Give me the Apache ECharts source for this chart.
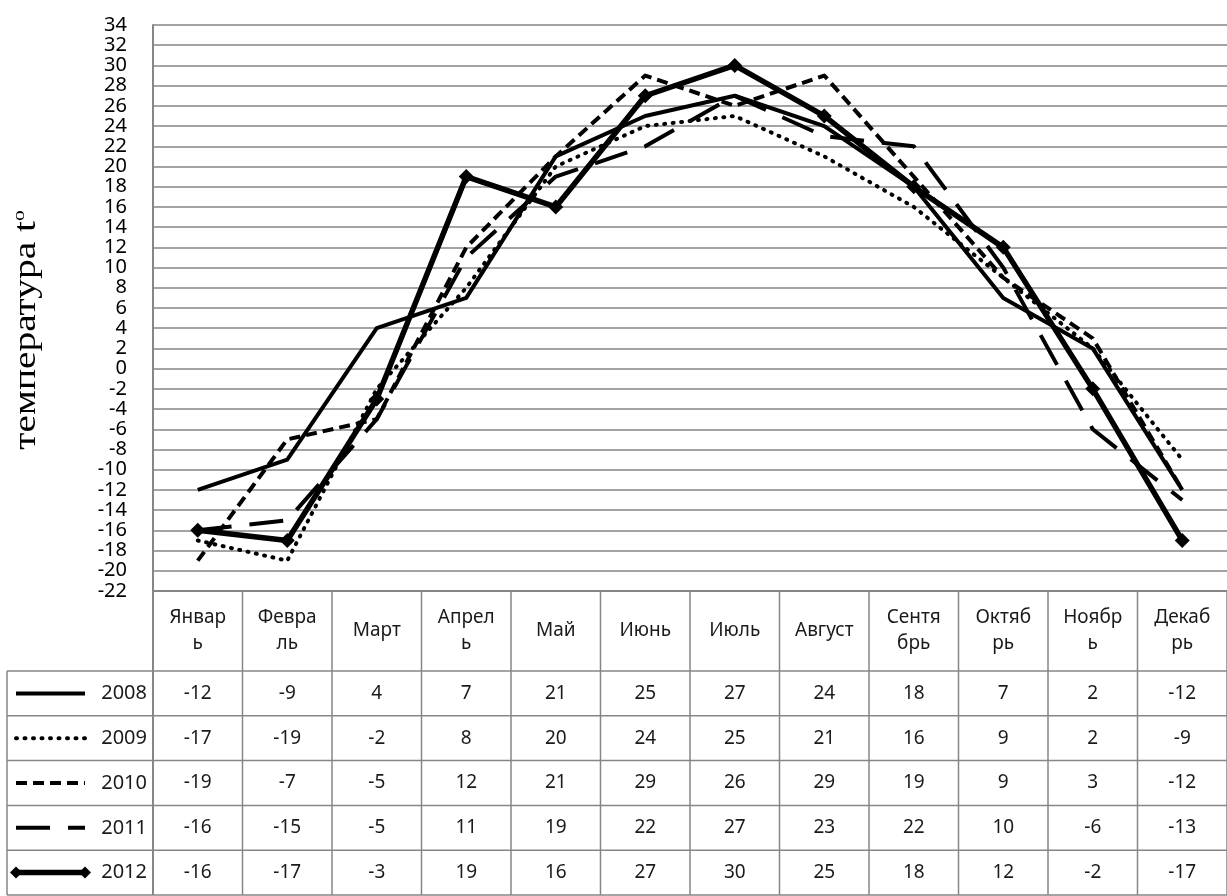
<!DOCTYPE html>
<html>
<head>
<meta charset="utf-8">
<script src="https://cdn.jsdelivr.net/npm/echarts@6/dist/echarts.min.js"></script>
<style>
html,body{margin:0;padding:0;background:#fff;}
#c{width:1227px;height:896px;}
</style>
</head>
<body>
<div id="c"></div>
<script>
var months = ['Январ\nь','Февра\nль','Март','Апрел\nь','Май','Июнь','Июль','Август','Сентя\nбрь','Октяб\nрь','Ноябр\nь','Декаб\nрь'];
var years = ['2008','2009','2010','2011','2012'];
var t2008 = [-12,-9,4,7,21,25,27,24,18,7,2,-12];
var t2009 = [-17,-19,-2,8,20,24,25,21,16,9,2,-9];
var t2010 = [-19,-7,-5,12,21,29,26,29,19,9,3,-12];
var t2011 = [-16,-15,-5,11,19,22,27,23,22,10,-6,-13];
var t2012 = [-16,-17,-3,19,16,27,30,25,18,12,-2,-17];
var yMin = -22, yMax = 34, yStep = 2;
var yTitle = 'температура t';

var allData = [t2008,t2009,t2010,t2011,t2012];
var styles = [
  {width:4, type:'solid'},
  {width:4, type:[1,7.5], cap:'round'},
  {width:4, type:[11,6]},
  {width:4, type:[34,18]},
  {width:5.5, type:'solid'}
];

var chart = echarts.init(document.getElementById('c'), null, {renderer:'canvas'});
var GRID = {left:153, top:25, right:-5, bottom:305};
var series = years.map(function(y,i){
  return {
    name:y, type:'line', data:allData[i],
    symbol: i===4 ? 'diamond' : 'none',
    symbolSize: 15,
    showSymbol: i===4,
    itemStyle:{color:'#000'},
    lineStyle:{color:'#000', width:styles[i].width, type:styles[i].type, cap:styles[i].cap||'butt', join:'round'},
    z: 2+i,
    animation:false
  };
});

chart.setOption({
  animation:false,
  grid:GRID,
  xAxis:{
    type:'category', data:months, boundaryGap:true,
    axisLine:{show:true, onZero:false, lineStyle:{color:'#868686', width:2}},
    axisTick:{show:false},
    axisLabel:{interval:0, margin:40, verticalAlign:'middle', lineHeight:26, fontSize:19, color:'#1a1a1a', fontFamily:'Noto Sans'},
    splitLine:{show:false}
  },
  yAxis:{
    type:'value', min:yMin, max:yMax, interval:yStep,
    axisLine:{show:true, lineStyle:{color:'#868686', width:2}},
    axisTick:{show:false},
    axisLabel:{margin:26, fontSize:20, color:'#000', fontFamily:'Noto Sans', lineHeight:16},
    splitLine:{show:true, lineStyle:{color:'#868686', width:1.5}}
  },
  series:series
});

function buildTable(){
  var g = [];
  var lineC = '#868686';
  var rowTop = 671, rowH = 44.8;
  var xL = 7, xR = 1232, axisX = 153;
  var headTop = 591;
  g.push({type:'text', x:27, y:330, rotation:Math.PI/2, scaleX:1.27, scaleY:1,
    style:{rich:{a:{fontFamily:'Liberation Serif', fontSize:31, fill:'#000'}, o:{fontFamily:'Liberation Serif', fontSize:17, fill:'#000', verticalAlign:'top'}},
      text:'{a|'+yTitle+'}{o|o}', align:'center', verticalAlign:'middle'}});
  for (var r=0;r<=years.length;r++){
    var y = rowTop + r*rowH;
    if (r===years.length) y = 895;
    g.push({type:'line', shape:{x1:xL,y1:y,x2:xR,y2:y}, style:{stroke:lineC, lineWidth:1.5}, silent:true});
  }
  g.push({type:'line', shape:{x1:xL,y1:rowTop,x2:xL,y2:895}, style:{stroke:lineC, lineWidth:1.5}});
  g.push({type:'line', shape:{x1:axisX,y1:headTop,x2:axisX,y2:895}, style:{stroke:lineC, lineWidth:2}});
  var half = (chart.convertToPixel({xAxisIndex:0}, 1) - chart.convertToPixel({xAxisIndex:0}, 0))/2;
  for (var i=0;i<months.length;i++){
    var cx = chart.convertToPixel({xAxisIndex:0}, i);
    g.push({type:'line', shape:{x1:cx+half,y1:headTop,x2:cx+half,y2:895}, style:{stroke:lineC, lineWidth:1.5}});
  }
  for (var r=0;r<years.length;r++){
    var cy = rowTop + r*rowH + rowH/2;
    if (r===years.length-1) cy = (rowTop + r*rowH + 895)/2;
    for (var i=0;i<months.length;i++){
      var cx = chart.convertToPixel({xAxisIndex:0}, i);
      g.push({type:'text', x:cx, y:cy, style:{text:String(allData[r][i]), fontSize:19, fontFamily:'Noto Sans', fill:'#1a1a1a', align:'center', verticalAlign:'middle'}});
    }
    var st = styles[r];
    var dash = (st.type==='solid') ? null : st.type;
    g.push({type:'line', shape:{x1:16,y1:cy,x2:85,y2:cy}, style:{stroke:'#000', lineWidth:st.width, lineDash:dash, lineCap:st.cap||'butt'}});
    if (r===4){
      [16,85].forEach(function(px){
        g.push({type:'polygon', shape:{points:[[px-6,cy],[px,cy-6],[px+6,cy],[px,cy+6]]}, style:{fill:'#000'}});
      });
    }
    g.push({type:'text', x:147, y:cy, style:{text:years[r], fontSize:20, fontFamily:'Noto Sans', fill:'#1a1a1a', align:'right', verticalAlign:'middle'}});
  }
  chart.setOption({graphic:g});
}
buildTable();
</script>
</body>
</html>
